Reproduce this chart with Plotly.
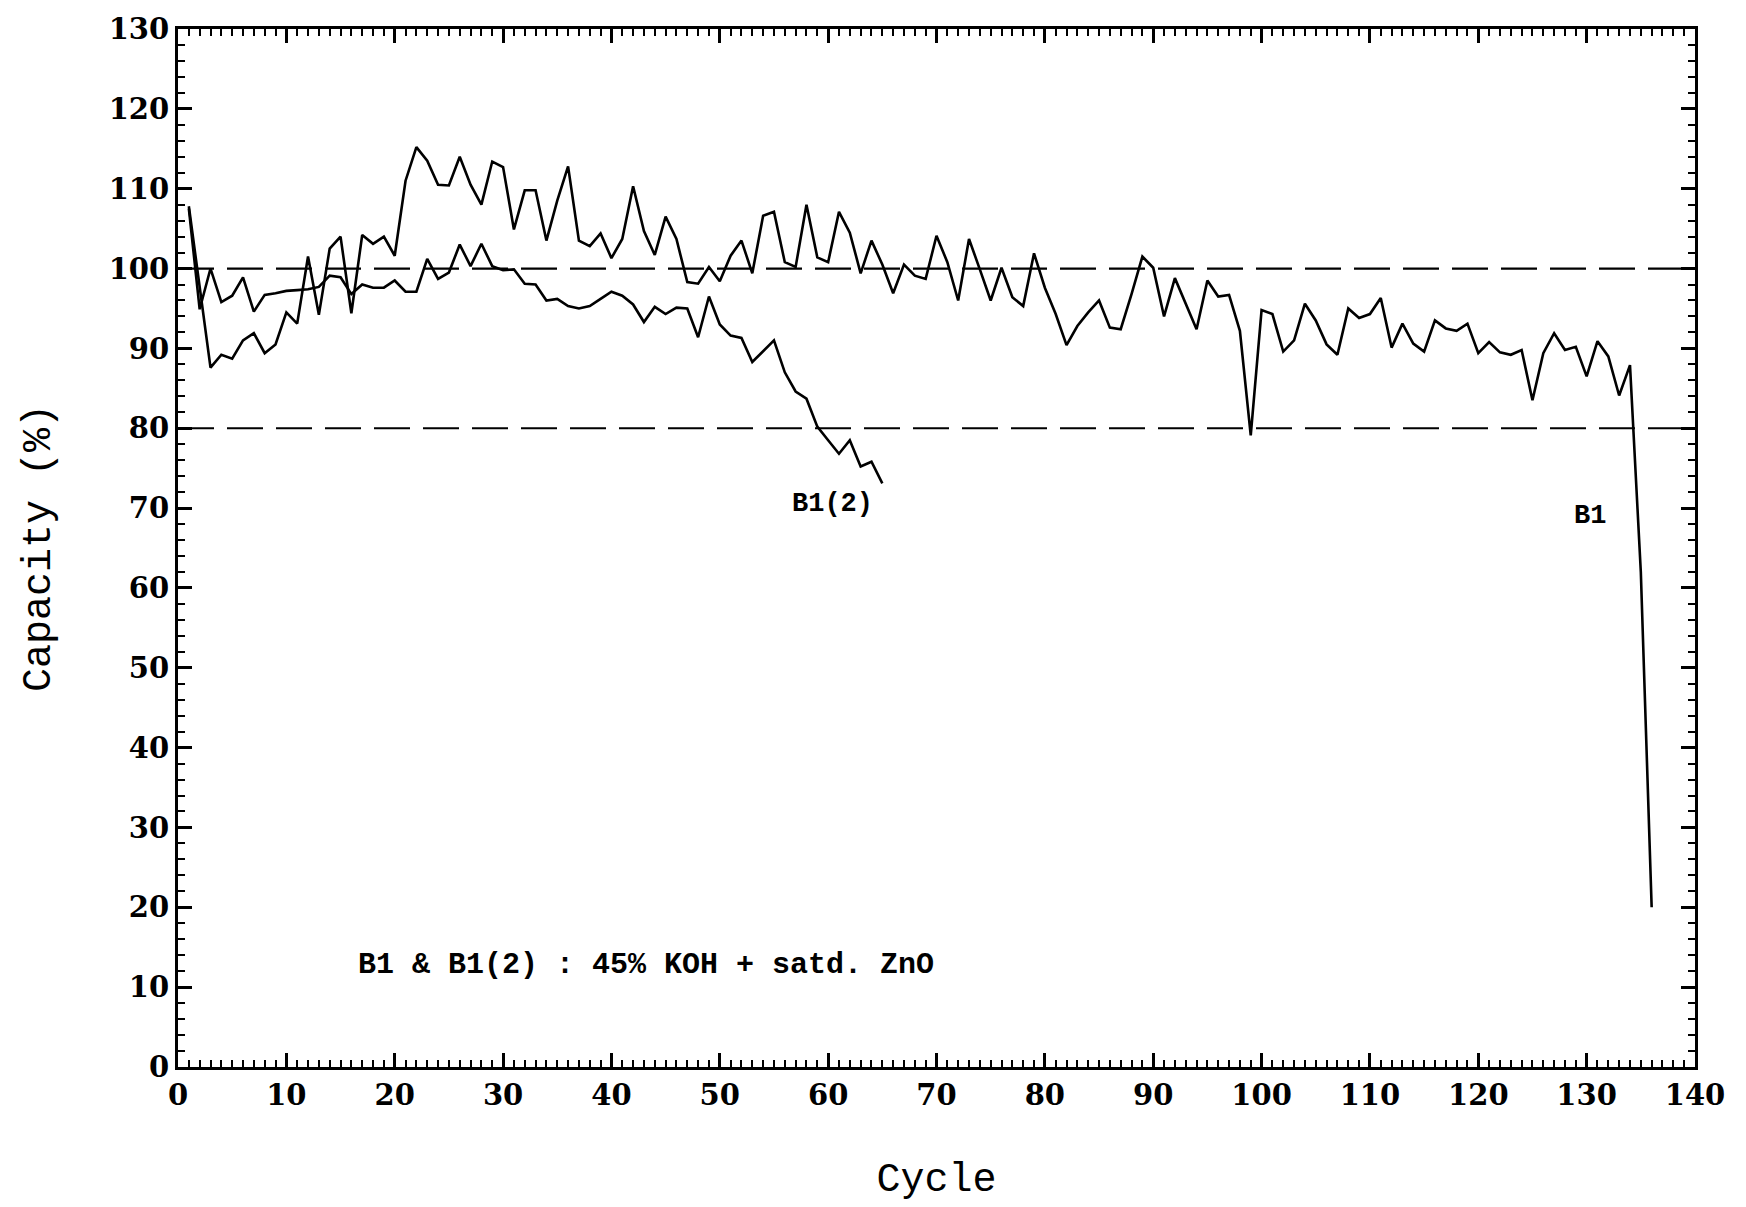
import plotly.graph_objects as go

# ---- data ----
b1_cycles = list(range(1, 137))
b1_capacity = [
    107.8, 97.5, 87.6, 89.2, 88.7, 91.0, 91.9, 89.4, 90.5, 94.5,
    93.1, 101.5, 94.2, 102.5, 104.0, 94.4, 104.2, 103.1, 104.0, 101.6,
    111.0, 115.2, 113.5, 110.5, 110.4, 114.0, 110.5, 108.0, 113.4, 112.7,
    104.9, 109.8, 109.8, 103.5, 108.5, 112.8, 103.5, 102.8, 104.4, 101.3,
    103.7, 110.3, 104.7, 101.7, 106.5, 103.7, 98.3, 98.1, 100.2, 98.4,
    101.6, 103.5, 99.4, 106.6, 107.1, 100.8, 100.2, 108.0, 101.4, 100.8,
    107.1, 104.5, 99.4, 103.5, 100.5, 96.9, 100.5, 99.1, 98.7, 104.1,
    100.8, 96.0, 103.7, 99.9, 96.0, 100.1, 96.4, 95.3, 101.9, 97.6,
    94.3, 90.4, 92.8, 94.5, 96.0, 92.6, 92.4, 96.8, 101.5, 100.1,
    94.0, 98.8, 95.5, 92.4, 98.5, 96.5, 96.7, 92.2, 79.1, 94.8,
    94.3, 89.6, 91.0, 95.6, 93.5, 90.5, 89.2, 95.0, 93.8, 94.3,
    96.3, 90.1, 93.1, 90.6, 89.6, 93.5, 92.5, 92.2, 93.1, 89.4,
    90.8, 89.5, 89.2, 89.8, 83.5, 89.4, 91.9, 89.8, 90.2, 86.5,
    90.9, 89.0, 84.1, 87.9, 62.0, 20.0,
]

b12_cycles = list(range(1, 66))
b12_capacity = [
    107.5, 94.9, 100.0, 95.8, 96.6, 98.9, 94.6, 96.7, 96.9, 97.2,
    97.3, 97.4, 97.7, 99.1, 98.9, 96.8, 98.0, 97.6, 97.6, 98.5,
    97.1, 97.1, 101.2, 98.7, 99.5, 103.0, 100.3, 103.1, 100.3, 99.8,
    99.9, 98.1, 98.0, 96.0, 96.2, 95.3, 95.0, 95.3, 96.2, 97.1,
    96.6, 95.5, 93.3, 95.2, 94.3, 95.1, 95.0, 91.4, 96.5, 93.0,
    91.6, 91.3, 88.3, 89.7, 91.0, 87.0, 84.6, 83.7, 80.2, 78.5,
    76.8, 78.5, 75.2, 75.8, 73.1,
]

reference_levels = [100, 80]
x_range = [0, 140]
y_range = [0, 130]

fig = go.Figure()

for lvl in reference_levels:
    fig.add_trace(go.Scatter(
        x=x_range, y=[lvl, lvl], mode="lines",
        line=dict(color="black", width=2.2, dash="36px,13px"),
        showlegend=False, hoverinfo="skip"))

fig.add_trace(go.Scatter(
    x=b1_cycles, y=b1_capacity, mode="lines", name="B1",
    line=dict(color="black", width=2.6), showlegend=False))
fig.add_trace(go.Scatter(
    x=b12_cycles, y=b12_capacity, mode="lines", name="B1(2)",
    line=dict(color="black", width=2.6), showlegend=False))

label_font = dict(family="Liberation Mono", size=27, color="black")
fig.add_annotation(x=60.4, y=70.5, text="<b>B1(2)</b>", showarrow=False, font=label_font)
fig.add_annotation(x=130.3, y=69, text="<b>B1</b>", showarrow=False, font=label_font)
fig.add_annotation(x=43.2, y=12.75, text="<b>B1 & B1(2) : 45% KOH + satd. ZnO</b>",
                   showarrow=False, font=dict(family="Liberation Mono", size=30, color="black"))

tick_font = dict(family="DejaVu Serif", size=29, color="black", weight="bold")
title_font = dict(family="Liberation Mono", size=40, color="black")

common = dict(
    showline=True, linewidth=3, linecolor="black", mirror="allticks",
    ticks="inside", ticklen=14, tickwidth=2.5, tickcolor="black",
    showgrid=False, zeroline=False, tickfont=tick_font,
)

fig.update_xaxes(
    range=x_range, dtick=10, tick0=0,
    minor=dict(dtick=1, ticks="inside", ticklen=7, tickwidth=2, tickcolor="black", showgrid=False),
    title=dict(text="Cycle", font=title_font, standoff=53),
    **common)
fig.update_yaxes(
    range=y_range, dtick=10, tick0=0,
    minor=dict(dtick=2, ticks="inside", ticklen=7, tickwidth=2, tickcolor="black", showgrid=False),
    title=dict(text="Capacity (%)", font=title_font, standoff=46),
    **common)

fig.update_layout(
    width=1746, height=1207,
    margin=dict(l=178, r=51, t=27, b=140),
    paper_bgcolor="white", plot_bgcolor="white",
    showlegend=False,
)

fig.write_html("out.html")
